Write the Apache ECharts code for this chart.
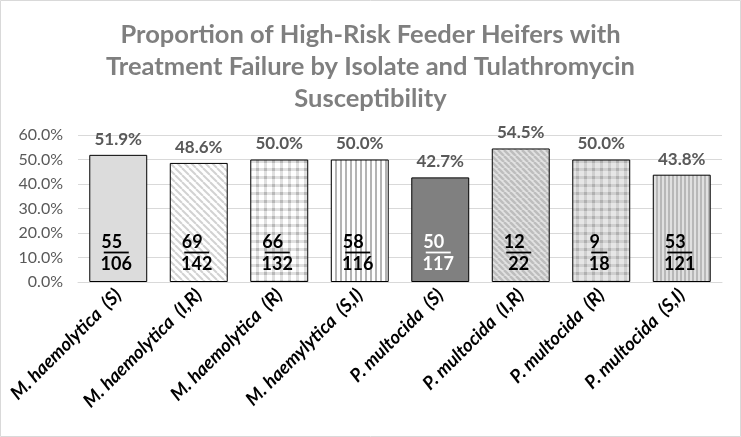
<!DOCTYPE html>
<html><head><meta charset="utf-8">
<script src="https://cdn.jsdelivr.net/npm/echarts@6/dist/echarts.min.js"></script>
<style>html,body{margin:0;padding:0;background:#fff}#c{width:741px;height:437px}</style>
</head><body><div id="c"></div>
<script>
var categories = ['M. haemolytica  (S)','M. haemolytica  (I,R)','M. haemolytica  (R)','M. haemylytica  (S,I)','P. multocida  (S)','P. multocida  (I,R)','P. multocida  (R)','P. multocida  (S,I)'];
var percents = [51.9, 48.6, 50.0, 50.0, 42.7, 54.5, 50.0, 43.8];
var numerators = [55, 69, 66, 58, 50, 12, 9, 53];
var denominators = [106, 142, 132, 116, 117, 22, 18, 121];
var yTicks = [0, 10, 20, 30, 40, 50, 60];

function pat(w, h, draw) {
  var c = document.createElement('canvas'); c.width = w; c.height = h;
  var g = c.getContext('2d'); draw(g, w, h);
  return { image: c, repeat: 'repeat' };
}
function diag(bg, fg, size, lw) {
  return pat(size, size, function (g, w, h) {
    g.fillStyle = bg; g.fillRect(0, 0, w, h);
    g.strokeStyle = fg; g.lineWidth = lw;
    for (var k = -1; k <= 1; k++) {
      g.beginPath(); g.moveTo(k * w, 0); g.lineTo(k * w + w, h); g.stroke();
    }
  });
}
function gingham(bg, band, cross, cell, bw) {
  return pat(cell, cell, function (g, w, h) {
    g.fillStyle = bg; g.fillRect(0, 0, w, h);
    g.fillStyle = band; g.fillRect(0, 0, w, bw); g.fillRect(0, 0, bw, h);
    g.fillStyle = cross; g.fillRect(0, 0, bw, bw);
  });
}
function vert(bg, fg, cell, lw) {
  return pat(cell, 4, function (g, w, h) {
    g.fillStyle = bg; g.fillRect(0, 0, w, h);
    g.fillStyle = fg; g.fillRect(0, 0, lw, h);
  });
}
var fills = [
  '#dcdcdc',
  diag('#ffffff', '#d2d2d2', 7, 2),
  gingham('#ffffff', '#e0e0e0', '#b8b8b8', 8, 3),
  vert('#ffffff', '#b4b4b4', 5, 2),
  '#808080',
  diag('#e2e2e2', '#bdbdbd', 6, 2.5),
  gingham('#e6e6e6', '#cfcfcf', '#b0b0b0', 8, 3),
  vert('#e0e0e0', '#b8b8b8', 4, 2)
];

var barData = percents.map(function (v, i) {
  return { value: v, itemStyle: { color: fills[i], borderColor: '#000', borderWidth: 1 } };
});
var labelData = percents.map(function (v) { return v; });

var font = 'Lato';
function richSet(col) {
  return {
    n: { fontFamily: font, fontWeight: 'bold', fontSize: 18, color: col, lineHeight: 18, align: 'center' },
    d: { fontFamily: font, fontWeight: 'bold', fontSize: 18, color: col, lineHeight: 21, align: 'center' }
  };
}
var rich = {};
var rb = richSet('#000'), rw = richSet('#fff');
rich.n = rb.n; rich.d = rb.d; rich.nw = rw.n; rich.dw = rw.d;
[1, 2, 3].forEach(function (k) {
  rich['u' + k] = { width: 9 * k + 7, height: 1.8, lineHeight: 3, backgroundColor: '#000', fontSize: 1, align: 'center' };
  rich['uw' + k] = { width: 9 * k + 7, height: 1.8, lineHeight: 3, backgroundColor: '#fff', fontSize: 1, align: 'center' };
});

var chart = echarts.init(document.getElementById('c'), null, { renderer: 'canvas' });
chart.setOption({
  animation: false,
  backgroundColor: '#fff',
  graphic: [{ type: 'rect', shape: { x: 0.5, y: 0.5, width: 740, height: 436 }, style: { fill: 'none', stroke: '#d9d9d9', lineWidth: 1 }, z: 100 }],
  title: {
    text: 'Proportion of High-Risk Feeder Heifers with\nTreatment Failure by Isolate and Tulathromycin\nSusceptibility',
    left: 'center', top: 14,
    textStyle: { fontFamily: font, fontWeight: 'bold', fontSize: 25.5, color: '#7f7f7f', lineHeight: 32 }
  },
  grid: { left: 78, right: 19, top: 135, bottom: 155, containLabel: false },
  xAxis: {
    type: 'category', data: categories,
    axisLine: { lineStyle: { color: '#d9d9d9' } },
    axisTick: { show: false },
    axisLabel: { rotate: 45, interval: 0, margin: 10, fontFamily: font, fontWeight: 'bold', fontStyle: 'italic', fontSize: 18.5, color: '#000' }
  },
  yAxis: {
    type: 'value', min: yTicks[0], max: yTicks[yTicks.length - 1], interval: 10,
    axisLine: { show: false }, axisTick: { show: false },
    splitLine: { lineStyle: { color: '#d9d9d9' } },
    axisLabel: { fontFamily: font, fontSize: 16, color: '#595959', margin: 15, formatter: function (v) { return v.toFixed(1) + '%'; } }
  },
  series: [{
    type: 'bar', data: barData, barWidth: '72%',
    label: { show: true, position: 'top', distance: 7, fontFamily: font, fontWeight: 'bold', fontSize: 17, color: '#595959',
      formatter: function (p) { return p.value.toFixed(1) + '%'; } }
  }, {
    type: 'bar', data: labelData, barWidth: '72%', barGap: '-100%',
    itemStyle: { color: 'rgba(0,0,0,0)' },
    label: { show: true, position: 'insideBottom', distance: 7, offset: [-2, 0], rich: rich,
      formatter: function (p) {
        var i = p.dataIndex, s = String(numerators[i]), w = i === 4 ? 'w' : '';
        return '{n' + w + '|' + s + '\u2002}\n{u' + w + s.length + '| }\n{d' + w + '|' + denominators[i] + '}';
      } }
  }]
});
</script></body></html>
